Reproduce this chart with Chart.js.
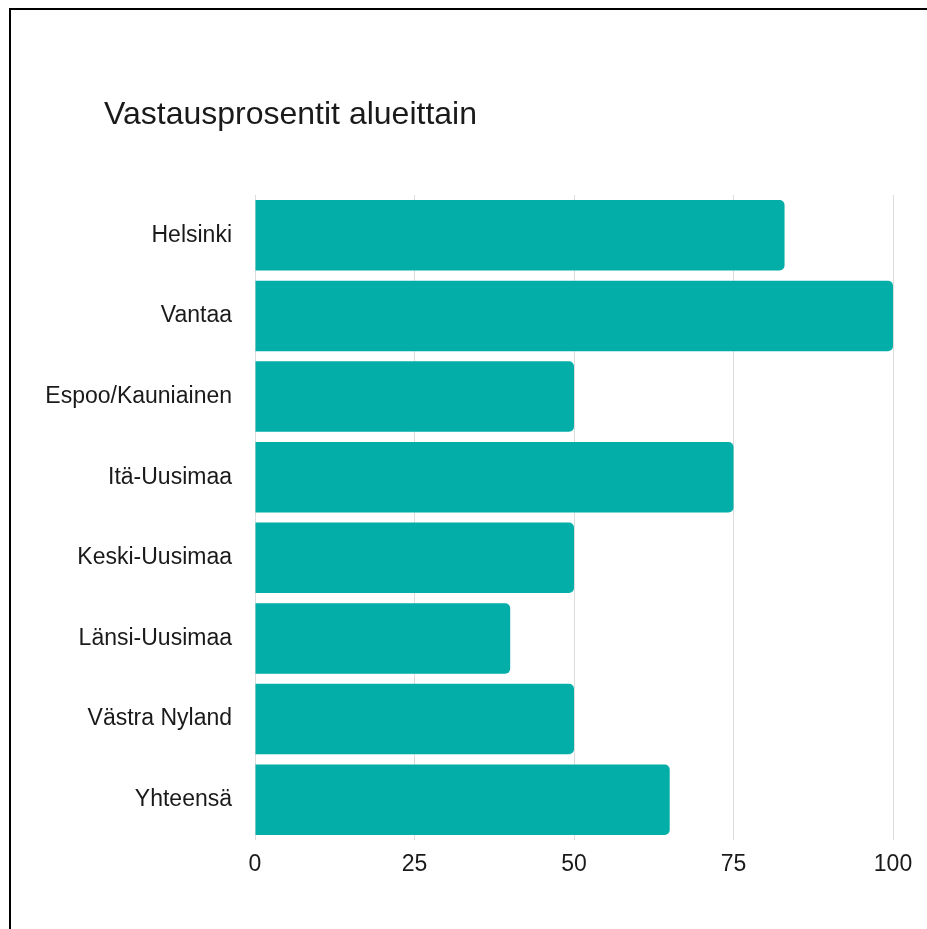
<!DOCTYPE html>
<html>
<head>
<meta charset="utf-8">
<script src="https://cdn.jsdelivr.net/npm/chart.js@4"></script>
<style>
  html, body { margin: 0; padding: 0; background: #fff; overflow: hidden; }
  #wrap { position: relative; width: 927px; height: 929px; }
  #frame {
    position: absolute; left: 9px; top: 8px; width: 1000px; height: 1000px;
    border: 2px solid #000; box-sizing: border-box; pointer-events: none;
  }
  #title {
    position: absolute; left: 104px; top: 93px; margin: 0;
    font: 32px "Liberation Sans", Arial, sans-serif; color: #1a1a1a; font-weight: normal;
    line-height: 40px;
  }
  #chart { position: absolute; left: 0; top: 0; }
</style>
</head>
<body>
<div id="wrap">
  <canvas id="chart" width="927" height="929"></canvas>
  <h1 id="title">Vastausprosentit alueittain</h1>
  <div id="frame"></div>
</div>
<script>
// Response rates by region
const regions = ["Helsinki", "Vantaa", "Espoo/Kauniainen", "Itä-Uusimaa", "Keski-Uusimaa", "Länsi-Uusimaa", "Västra Nyland", "Yhteensä"];
const rates = [83, 100, 50, 75, 50, 40, 50, 65];
const xTicks = [0, 25, 50, 75, 100];

const teal = "#03ada8";
const fontFamily = "'Liberation Sans', Arial, sans-serif";

new Chart(document.getElementById("chart").getContext("2d"), {
  type: "bar",
  data: {
    labels: regions,
    datasets: [{
      data: rates,
      backgroundColor: teal,
      borderWidth: 0,
      borderRadius: 5,
      categoryPercentage: 1,
      barPercentage: 0.875
    }]
  },
  options: {
    indexAxis: "y",
    responsive: false,
    animation: false,
    layout: { padding: { top: 195, right: 34, bottom: 39, left: 0 } },
    plugins: { legend: { display: false }, tooltip: { enabled: false }, title: { display: false } },
    scales: {
      x: {
        min: 0,
        max: 100,
        afterBuildTicks: scale => { scale.ticks = xTicks.map(v => ({ value: v })); },
        afterFit: scale => { scale.height = 50; },
        grid: { color: "#dcdcdc", lineWidth: 1, drawTicks: false },
        border: { display: false },
        ticks: { padding: 11, color: "#1a1a1a", font: { family: fontFamily, size: 23 } }
      },
      y: {
        afterFit: scale => { scale.width = 255; },
        grid: { display: false, drawTicks: false },
        border: { display: false },
        ticks: { padding: 23, color: "#1a1a1a", font: { family: fontFamily, size: 23 } }
      }
    }
  }
});
</script>
</body>
</html>
